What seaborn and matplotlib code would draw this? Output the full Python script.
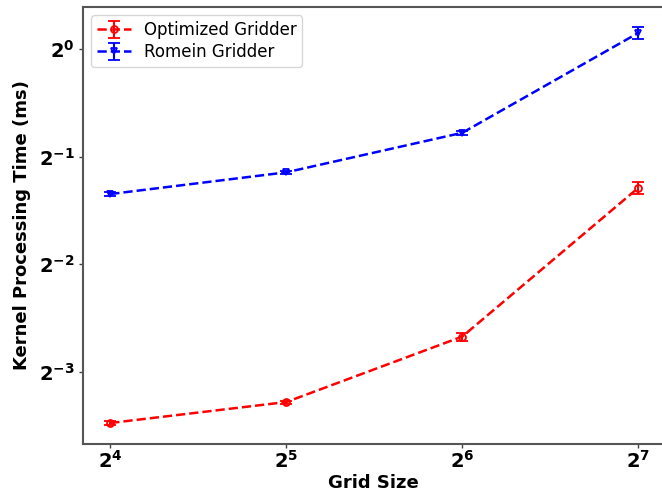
import matplotlib
matplotlib.use("Agg")
import matplotlib.pyplot as plt
import matplotlib.ticker as mticker
import numpy as np
import seaborn as sns

# Grid sizes and measured kernel times (ms)
grid_sizes = [16, 32, 64, 128]
optimized_ms = [0.090, 0.103, 0.157, 0.409]
optimized_err = [0.001, 0.001, 0.004, 0.016]
romein_ms = [0.393, 0.452, 0.583, 1.109]
romein_err = [0.004, 0.004, 0.008, 0.042]

x_exponents = [4, 5, 6, 7]
y_exponents = [-3, -2, -1, 0]

sns.set_theme(style="white")
plt.rcParams["font.family"] = ["DejaVu Sans"]
plt.rcParams["mathtext.fontset"] = "dejavusans"
plt.rcParams["text.color"] = "black"
plt.rcParams["axes.labelcolor"] = "black"
plt.rcParams["xtick.color"] = "black"
plt.rcParams["ytick.color"] = "black"

fig = plt.figure(figsize=(6.62, 4.95), dpi=100)
ax = fig.add_axes([83 / 662, 51 / 495, 580.8 / 662, 437 / 495])

ax.errorbar(grid_sizes, optimized_ms, yerr=optimized_err, color="red",
            linestyle="--", linewidth=1.8, marker="o", markersize=5,
            markerfacecolor="none", markeredgewidth=1.3, capsize=4,
            elinewidth=1.5, capthick=1.5, label="Optimized Gridder")
ax.errorbar(grid_sizes, romein_ms, yerr=romein_err, color="blue",
            linestyle="--", linewidth=1.8, marker="v", markersize=5,
            markerfacecolor="none", markeredgewidth=1.3, capsize=4,
            elinewidth=1.5, capthick=1.5, label="Romein Gridder")

ax.set_xscale("log", base=2)
ax.set_yscale("log", base=2)
ax.set_xlim(2 ** 3.845, 2 ** 7.145)
ax.set_ylim(2 ** -3.669, 2 ** 0.390)

ax.xaxis.set_major_locator(mticker.FixedLocator([2.0 ** e for e in x_exponents]))
ax.yaxis.set_major_locator(mticker.FixedLocator([2.0 ** e for e in y_exponents]))
ax.xaxis.set_minor_locator(mticker.NullLocator())
ax.yaxis.set_minor_locator(mticker.NullLocator())
pow_fmt = mticker.FuncFormatter(
    lambda v, pos: r"$\mathbf{2^{%d}}$" % int(round(np.log2(v))))
ax.xaxis.set_major_formatter(pow_fmt)
ax.yaxis.set_major_formatter(pow_fmt)

ax.tick_params(axis="both", which="major", labelsize=14, length=3,
               width=1.0, color="#444444", bottom=True, left=True,
               labelcolor="black")
ax.tick_params(axis="x", pad=1)
ax.tick_params(axis="y", pad=3)

for side in ax.spines.values():
    side.set_color("#555555")
    side.set_linewidth(1.5)

ax.set_xlabel("Grid Size", fontsize=13, fontweight="bold", labelpad=2)
ax.set_ylabel("Kernel Processing Time (ms)", fontsize=13, fontweight="bold",
              labelpad=6)

ax.legend(loc="upper left", fontsize=12, frameon=True, borderaxespad=0.5,
          handlelength=2.0, labelspacing=0.25, borderpad=0.35)

fig.savefig("out.png", dpi=100)
